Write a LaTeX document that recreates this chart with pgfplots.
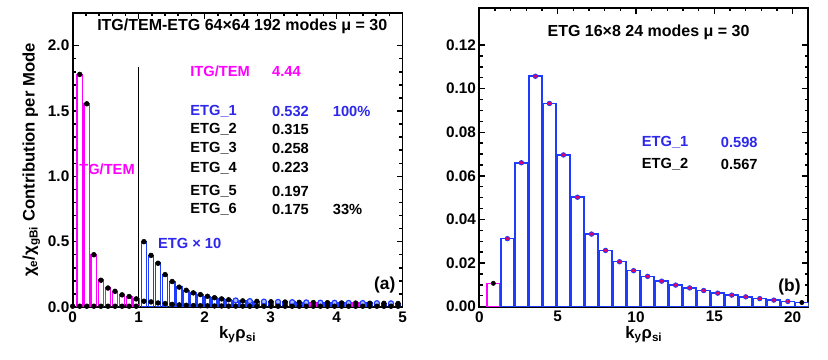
\documentclass[border=0pt]{standalone}
\usepackage{pgfplots}
\pgfplotsset{compat=1.18}
\usepackage{fontspec}
\setmainfont{Liberation Sans}

\definecolor{itg}{RGB}{255,0,255}
\definecolor{etg}{RGB}{30,60,255}
\definecolor{etgtxt}{RGB}{45,40,235}
\definecolor{dotred}{RGB}{225,0,100}

\newcommand{\lbl}{\bfseries\fontsize{11}{13}\selectfont}

\pgfplotsset{
  panel/.style={
    scale only axis,
    anchor=south west,
    axis line style={line width=1.4pt},
    tick style={line width=1.1pt, black},
    major tick length=4.5pt,
    minor tick length=2.5pt,
    /pgf/number format/assume math mode=true,
    tick label style={font=\bfseries\fontsize{11.5}{13}\selectfont},
    yticklabel style={xshift=1pt},
    label style={font=\bfseries\fontsize{12.5}{14}\selectfont},
    clip=true,
  },
  bars/.style={ybar, bar shift=0pt, fill=white, line width=1.1pt},
  bdot/.style={only marks, mark=*, mark size=1.8pt, black, mark options={draw=black, fill=black}},
}

\begin{document}
\begin{tikzpicture}

% ---------------- (a) ----------------
\begin{axis}[panel,
  at={(54.5pt,39.75pt)},
  width=247.4pt, height=220.5pt,
  xmin=0, xmax=5, ymin=0, ymax=2.25,
  xtick={0,1,2,3,4,5}, minor x tick num=4,
  ytick={0,0.5,1,1.5,2}, minor y tick num=4,
  yticklabel style={/pgf/number format/.cd, fixed, fixed zerofill, precision=1},
  xlabel={k\textsubscript{y}ρ\textsubscript{si}},
  ylabel={χ\textsubscript{e}/χ\textsubscript{gBi} Contribution per Mode},
  xlabel style={yshift=4pt},
  ylabel style={yshift=-1pt},
]
% ITG/TEM
\addplot[bars, bar width=0.08, draw=itg] coordinates {
(0.107,1.78) (0.214,1.555) (0.321,0.40) (0.428,0.205) (0.535,0.145)
(0.642,0.12) (0.749,0.093) (0.856,0.08) (0.963,0.062)};
% ETG x 10
\addplot[bars, bar width=0.08, draw=etg] coordinates {
(1.080,0.500) (1.187,0.395) (1.294,0.335) (1.401,0.248) (1.508,0.195)
(1.615,0.152) (1.722,0.128) (1.829,0.108) (1.936,0.095) (2.043,0.082)
(2.150,0.071) (2.257,0.062) (2.364,0.055) (2.471,0.050) (2.578,0.047)
(2.685,0.045) (2.792,0.043) (2.899,0.041) (3.006,0.040) (3.113,0.039)
(3.220,0.038) (3.327,0.037) (3.434,0.036)
(3.755,0.033) (3.862,0.033) (3.969,0.032) (4.076,0.031)
(4.504,0.029) (4.611,0.029) (4.718,0.028) (4.825,0.028) (4.932,0.027)};
\addplot[bars, bar width=0.08, draw=itg] coordinates {
(3.541,0.035) (3.648,0.034) (4.183,0.031) (4.290,0.030) (4.397,0.030)};
% dots
\addplot[bdot] coordinates {
(0.107,1.78) (0.214,1.555) (0.321,0.40) (0.428,0.205) (0.535,0.145)
(0.642,0.12) (0.749,0.093) (0.856,0.08) (0.963,0.062)};
\addplot[bdot] coordinates {
(0.0,0.006) (0.107,0.006) (0.214,0.006) (0.321,0.006) (0.428,0.006) (0.535,0.006)
(0.642,0.006) (0.749,0.006) (0.856,0.006) (0.963,0.006)};
\addplot[bdot] coordinates {
(1.080,0.500) (1.187,0.395) (1.294,0.335) (1.401,0.248) (1.508,0.195)
(1.615,0.152) (1.722,0.128) (1.829,0.108) (1.936,0.095) (2.043,0.082)
(2.150,0.071) (2.257,0.062) (2.364,0.055)
(2.578,0.047) (2.792,0.043) (3.006,0.040) (3.220,0.038) (3.434,0.036)
(3.648,0.034) (3.862,0.033) (4.076,0.031) (4.290,0.030) (4.504,0.029)
(4.718,0.028) (4.932,0.027)};
\addplot[only marks, mark=*, mark size=1.9pt, mark options={draw=etg, fill=etg!35!white, line width=0.9pt}] coordinates {
(2.471,0.050) (2.685,0.045) (2.899,0.041) (3.113,0.039) (3.327,0.037)
(3.541,0.035) (3.755,0.033) (3.969,0.032) (4.183,0.031) (4.397,0.030)
(4.611,0.029) (4.825,0.028)};
% ETG unscaled
\addplot[bdot] coordinates {
(1.080,0.044) (1.187,0.039) (1.294,0.031) (1.401,0.026) (1.508,0.020)
(1.615,0.016) (1.722,0.013) (1.829,0.011) (1.936,0.010) (2.043,0.009)
(2.150,0.008) (2.257,0.008) (2.364,0.007) (2.471,0.007) (2.578,0.007)
(2.685,0.006) (2.792,0.006) (2.899,0.006) (3.006,0.006) (3.113,0.006)
(3.220,0.006) (3.327,0.006) (3.434,0.006) (3.541,0.006) (3.648,0.006)
(3.755,0.006) (3.862,0.006) (3.969,0.006) (4.076,0.006) (4.183,0.006)
(4.290,0.006) (4.397,0.006) (4.504,0.006) (4.611,0.006) (4.718,0.006)
(4.825,0.006) (4.932,0.006)};

\draw[line width=0.7pt] (axis cs:1,0.02) -- (axis cs:1,1.84);

\node[font=\bfseries\fontsize{12}{14}\selectfont] at (axis cs:2.57,2.146) {ITG/TEM-ETG 64×64 192 modes μ = 30};
\node[font=\lbl, text=itg, anchor=west, inner sep=0pt] at (axis cs:1.78,1.80) {ITG/TEM};
\node[font=\lbl, text=itg, anchor=west, inner sep=0pt] at (axis cs:3.02,1.80) {4.44};
\node[font=\lbl, text=etgtxt, anchor=west, inner sep=0pt] at (axis cs:1.78,1.50) {ETG\_1};
\node[font=\lbl, text=etgtxt, anchor=west, inner sep=0pt] at (axis cs:3.02,1.50) {0.532};
\node[font=\lbl, text=etgtxt, anchor=west, inner sep=0pt] at (axis cs:3.94,1.50) {100\%};
\node[font=\lbl, anchor=west, inner sep=0pt] at (axis cs:1.78,1.36) {ETG\_2};
\node[font=\lbl, anchor=west, inner sep=0pt] at (axis cs:3.02,1.36) {0.315};
\node[font=\lbl, anchor=west, inner sep=0pt] at (axis cs:1.78,1.215) {ETG\_3};
\node[font=\lbl, anchor=west, inner sep=0pt] at (axis cs:3.02,1.215) {0.258};
\node[font=\lbl, anchor=west, inner sep=0pt] at (axis cs:1.78,1.065) {ETG\_4};
\node[font=\lbl, anchor=west, inner sep=0pt] at (axis cs:3.02,1.065) {0.223};
\node[font=\lbl, anchor=west, inner sep=0pt] at (axis cs:1.78,0.887) {ETG\_5};
\node[font=\lbl, anchor=west, inner sep=0pt] at (axis cs:3.02,0.887) {0.197};
\node[font=\lbl, anchor=west, inner sep=0pt] at (axis cs:1.78,0.746) {ETG\_6};
\node[font=\lbl, anchor=west, inner sep=0pt] at (axis cs:3.02,0.746) {0.175};
\node[font=\lbl, anchor=west, inner sep=0pt] at (axis cs:3.94,0.746) {33\%};
\node[font=\lbl, text=itg, anchor=west, inner sep=0pt] at (axis cs:0.035,1.054) {ITG/TEM};
\node[font=\lbl, text=etgtxt, anchor=west, inner sep=0pt] at (axis cs:1.29,0.49) {ETG × 10};
\node[font=\bfseries\fontsize{13}{15}\selectfont] at (axis cs:4.73,0.17) {(a)};
\end{axis}

% ---------------- (b) ----------------
\begin{axis}[panel,
  at={(359.5pt,40pt)},
  width=246.75pt, height=224pt,
  xmin=0, xmax=21, ymin=0, ymax=0.137,
  xtick={0,5,10,15,20}, minor x tick num=4,
  ytick={0,0.02,0.04,0.06,0.08,0.10,0.12}, minor y tick num=3,
  yticklabel style={/pgf/number format/.cd, fixed, fixed zerofill, precision=2},
  scaled y ticks=false,
  xlabel={k\textsubscript{y}ρ\textsubscript{si}},
  xlabel style={yshift=4pt},
]
\addplot[bars, bar width=0.82, draw=itg] coordinates {(0.895,0.0107)};
\addplot[bars, bar width=0.82, draw=etg] coordinates {
(1.79,0.0312) (2.685,0.066) (3.58,0.1057) (4.475,0.0932) (5.37,0.0696)
(6.265,0.0502) (7.16,0.0333) (8.055,0.0258) (8.95,0.0206) (9.845,0.0165)
(10.74,0.0139) (11.635,0.0117) (12.53,0.0099) (13.425,0.0086) (14.32,0.0074)
(15.215,0.0062) (16.11,0.0053) (17.005,0.0045) (17.9,0.0037) (18.795,0.0030)
(19.69,0.0024) (20.585,0.0019)};
\addplot[only marks, mark=*, mark size=1.7pt, mark options={draw=etg, fill=dotred, line width=0.6pt}] coordinates {
(1.79,0.0312) (2.685,0.066) (3.58,0.1057) (4.475,0.0932) (5.37,0.0696)
(6.265,0.0502) (7.16,0.0333) (8.055,0.0258) (8.95,0.0206) (9.845,0.0165)
(10.74,0.0139) (11.635,0.0117) (12.53,0.0099) (13.425,0.0086) (14.32,0.0074)
(15.215,0.0062) (16.11,0.0053) (17.005,0.0045) (17.9,0.0037) (18.795,0.0030)
(19.69,0.0024)};
\addplot[bdot, mark size=1.6pt] coordinates {(0.895,0.0107) (20.585,0.0019)};

\node[font=\bfseries\fontsize{12}{14}\selectfont] at (axis cs:10.8,0.1258) {ETG 16×8 24 modes μ = 30};
\node[font=\lbl, text=etgtxt, anchor=west, inner sep=0pt] at (axis cs:10.36,0.0753) {ETG\_1};
\node[font=\lbl, text=etgtxt, anchor=west, inner sep=0pt] at (axis cs:15.4,0.0753) {0.598};
\node[font=\lbl, anchor=west, inner sep=0pt] at (axis cs:10.36,0.0652) {ETG\_2};
\node[font=\lbl, anchor=west, inner sep=0pt] at (axis cs:15.4,0.0652) {0.567};
\node[font=\bfseries\fontsize{13}{15}\selectfont] at (axis cs:19.8,0.009) {(b)};
\end{axis}

\pgfresetboundingbox
\path (0,0) rectangle (621pt,270pt);
\end{tikzpicture}
\end{document}
